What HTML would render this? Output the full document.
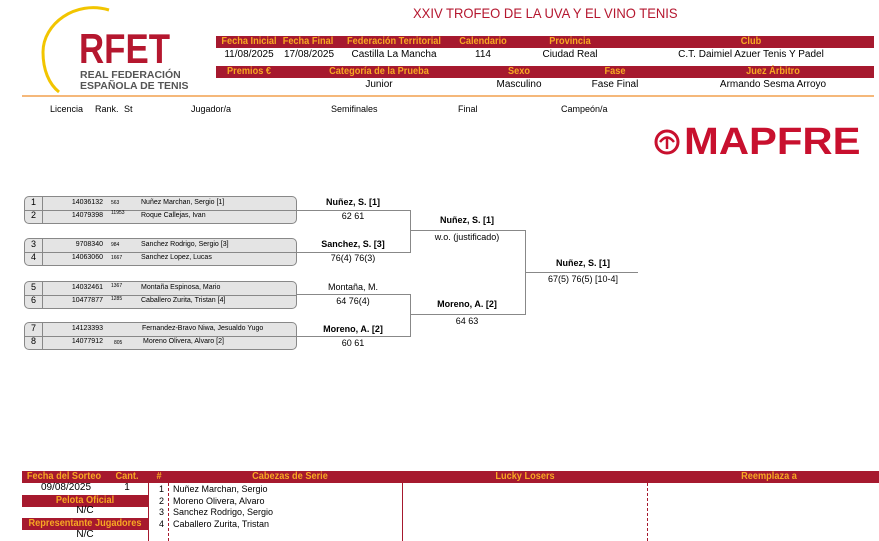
<!DOCTYPE html><html><head><meta charset="utf-8"><style>
body{margin:0;width:879px;height:541px;position:relative;background:#fff;font-family:"Liberation Sans",sans-serif;overflow:hidden}
.a{position:absolute;white-space:nowrap}
.bar{position:absolute;background:#a6192e;height:12px}
.h{position:absolute;color:#f7a823;font-size:10px;font-weight:bold;line-height:12px;transform:translateX(-50%) scaleX(0.92);white-space:nowrap}
.v{position:absolute;font-size:10px;line-height:12px;transform:translateX(-50%);white-space:nowrap;color:#000}
.c{position:absolute;font-size:9px;color:#000;white-space:nowrap}
.box{position:absolute;left:24px;width:271px;height:26px;border:1px solid #888;border-radius:5px;background:#e4e4e4}
.box .m{position:absolute;left:0;right:0;top:13px;border-top:1px solid #888}
.box .d{position:absolute;left:17px;top:0;bottom:0;border-left:1px solid #888}
.n{position:absolute;font-size:9px;width:17px;text-align:center}
.li{position:absolute;font-size:7px;width:78px;text-align:right;left:0}
.rk{position:absolute;font-size:5px;left:86px}
.nm{position:absolute;font-size:7px;left:116px}
.ln{position:absolute;background:#888}
.w{position:absolute;font-size:9px;font-weight:bold;transform:translateX(-50%);white-space:nowrap}
.s{position:absolute;font-size:9px;transform:translateX(-50%);white-space:nowrap}
</style></head><body>
<svg class="a" style="left:35px;top:4px" width="80" height="92"><path d="M74 6 C40 -4 8 20 8 48 C8 66 14 80 24 88" fill="none" stroke="#f2c500" stroke-width="3"/></svg>
<div class="a" style="left:79px;top:28px;font-size:42px;font-weight:bold;color:#b5172f;line-height:42px;transform:scaleX(0.83);transform-origin:left">RFET</div>
<div class="a" style="left:80px;top:70px;font-size:10.5px;font-weight:bold;color:#555;line-height:11px">REAL FEDERACIÓN<br>ESPAÑOLA DE TENIS</div>
<div class="a" style="left:413px;top:5px;font-size:14px;color:#b5172f;transform:scaleX(0.93);transform-origin:left">XXIV TROFEO DE LA UVA Y EL VINO TENIS</div>
<div class="bar" style="left:216px;top:36px;width:658px"></div>
<div class="h" style="left:249px;top:36px">Fecha Inicial</div><div class="h" style="left:308px;top:36px">Fecha Final</div><div class="h" style="left:394px;top:36px">Federación Territorial</div><div class="h" style="left:483px;top:36px">Calendario</div><div class="h" style="left:570px;top:36px">Provincia</div><div class="h" style="left:751px;top:36px">Club</div>
<div class="v" style="left:249px;top:49px">11/08/2025</div><div class="v" style="left:309px;top:49px">17/08/2025</div><div class="v" style="left:394px;top:49px">Castilla La Mancha</div><div class="v" style="left:483px;top:49px">114</div><div class="v" style="left:570px;top:49px">Ciudad Real</div><div class="v" style="left:751px;top:49px">C.T. Daimiel Azuer Tenis Y Padel</div>
<div class="bar" style="left:216px;top:66px;width:658px"></div>
<div class="h" style="left:249px;top:66px">Premios €</div><div class="h" style="left:379px;top:66px">Categoría de la Prueba</div><div class="h" style="left:519px;top:66px">Sexo</div><div class="h" style="left:615px;top:66px">Fase</div><div class="h" style="left:773px;top:66px">Juez Árbitro</div>
<div class="v" style="left:379px;top:79px">Junior</div><div class="v" style="left:519px;top:79px">Masculino</div><div class="v" style="left:615px;top:79px">Fase Final</div><div class="v" style="left:773px;top:79px">Armando Sesma Arroyo</div>
<div class="a" style="left:22px;top:95px;width:852px;height:2px;background:#f5b87a"></div>
<div class="c" style="left:50px;top:104px">Licencia</div><div class="c" style="left:95px;top:104px">Rank.</div><div class="c" style="left:124px;top:104px">St</div><div class="c" style="left:191px;top:104px">Jugador/a</div><div class="c" style="left:331px;top:104px">Semifinales</div><div class="c" style="left:458px;top:104px">Final</div><div class="c" style="left:561px;top:104px">Campeón/a</div>
<svg class="a" style="left:653px;top:128px" width="28" height="28"><circle cx="14" cy="14" r="11" fill="none" stroke="#c8102e" stroke-width="3"/><path d="M7 14 Q14 5 21 14 M14 9 V21" fill="none" stroke="#c8102e" stroke-width="2.5"/></svg>
<div class="a" style="left:684px;top:122px;font-size:38px;font-weight:900;color:#c8102e;line-height:40px;transform:scaleX(1.1);transform-origin:left">MAPFRE</div>

<div class="box" style="top:196px"><div class="m"></div><div class="d"></div>
<div class="n" style="top:0">1</div><div class="n" style="top:13px">2</div>
<div class="li" style="top:2px">14036132</div><div class="rk" style="top:3px">563</div><div class="nm" style="top:2px">Nuñez Marchan, Sergio [1]</div>
<div class="li" style="top:15px">14079398</div><div class="rk" style="top:13px">11953</div><div class="nm" style="top:15px">Roque Callejas, Ivan</div></div>
<div class="box" style="top:238px"><div class="m"></div><div class="d"></div>
<div class="n" style="top:0">3</div><div class="n" style="top:13px">4</div>
<div class="li" style="top:2px">9708340</div><div class="rk" style="top:3px">984</div><div class="nm" style="top:2px">Sanchez Rodrigo, Sergio [3]</div>
<div class="li" style="top:15px">14063060</div><div class="rk" style="top:16px">1667</div><div class="nm" style="top:15px">Sanchez Lopez, Lucas</div></div>
<div class="box" style="top:281px"><div class="m"></div><div class="d"></div>
<div class="n" style="top:0">5</div><div class="n" style="top:13px">6</div>
<div class="li" style="top:2px">14032461</div><div class="rk" style="top:1px">1367</div><div class="nm" style="top:2px">Montaña Espinosa, Mario</div>
<div class="li" style="top:15px">10477877</div><div class="rk" style="top:14px">1285</div><div class="nm" style="top:15px">Caballero Zurita, Tristan [4]</div></div>
<div class="box" style="top:322px"><div class="m"></div><div class="d"></div>
<div class="n" style="top:0">7</div><div class="n" style="top:13px">8</div>
<div class="li" style="top:2px">14123393</div><div class="nm" style="top:2px;left:117px">Fernandez-Bravo Niwa, Jesualdo Yugo</div>
<div class="li" style="top:15px">14077912</div><div class="rk" style="top:17px;left:89px">805</div><div class="nm" style="top:15px;left:118px">Moreno Olivera, Alvaro [2]</div></div>

<div class="ln" style="left:296px;top:210px;width:114px;height:1px"></div>
<div class="ln" style="left:296px;top:252px;width:114px;height:1px"></div>
<div class="ln" style="left:410px;top:210px;width:1px;height:43px"></div>
<div class="ln" style="left:296px;top:294px;width:114px;height:1px"></div>
<div class="ln" style="left:296px;top:336px;width:114px;height:1px"></div>
<div class="ln" style="left:410px;top:294px;width:1px;height:43px"></div>
<div class="ln" style="left:410px;top:230px;width:115px;height:1px"></div>
<div class="ln" style="left:410px;top:314px;width:115px;height:1px"></div>
<div class="ln" style="left:525px;top:230px;width:1px;height:85px"></div>
<div class="ln" style="left:525px;top:272px;width:113px;height:1px"></div>
<div class="w" style="left:353px;top:197px">Nuñez, S. [1]</div><div class="s" style="left:353px;top:211px">62 61</div>
<div class="w" style="left:353px;top:239px">Sanchez, S. [3]</div><div class="s" style="left:353px;top:253px">76(4) 76(3)</div>
<div class="s" style="left:353px;top:282px">Montaña, M.</div><div class="s" style="left:353px;top:296px">64 76(4)</div>
<div class="w" style="left:353px;top:324px">Moreno, A. [2]</div><div class="s" style="left:353px;top:338px">60 61</div>
<div class="w" style="left:467px;top:215px">Nuñez, S. [1]</div><div class="s" style="left:467px;top:232px">w.o. (justificado)</div>
<div class="w" style="left:467px;top:299px">Moreno, A. [2]</div><div class="s" style="left:467px;top:316px">64 63</div>
<div class="w" style="left:583px;top:258px">Nuñez, S. [1]</div><div class="s" style="left:583px;top:274px">67(5) 76(5) [10-4]</div>

<div class="bar" style="left:22px;top:471px;width:857px"></div>
<div class="h" style="left:64px;top:471px">Fecha del Sorteo</div><div class="h" style="left:127px;top:471px">Cant.</div><div class="h" style="left:159px;top:471px">#</div><div class="h" style="left:290px;top:471px">Cabezas de Serie</div><div class="h" style="left:525px;top:471px">Lucky Losers</div><div class="h" style="left:769px;top:471px">Reemplaza a</div>
<div class="v" style="left:66px;top:482px">09/08/2025</div><div class="v" style="left:127px;top:482px">1</div>
<div class="bar" style="left:22px;top:495px;width:126px"></div><div class="h" style="left:85px;top:495px">Pelota Oficial</div>
<div class="v" style="left:85px;top:505px">N/C</div>
<div class="bar" style="left:22px;top:518px;width:126px"></div><div class="h" style="left:85px;top:518px">Representante Jugadores</div>
<div class="v" style="left:85px;top:529px">N/C</div>
<div class="a" style="left:148px;top:483px;width:1px;height:58px;background:#a6192e"></div>
<div class="a" style="left:402px;top:483px;width:1px;height:58px;background:#a6192e"></div>
<div class="a" style="left:168px;top:483px;height:58px;border-left:1px dashed #a6192e"></div>
<div class="a" style="left:647px;top:483px;height:58px;border-left:1px dashed #a6192e"></div>
<div class="a" style="left:159px;top:484px;font-size:9px;line-height:11.6px;text-align:right">1<br>2<br>3<br>4</div>
<div class="a" style="left:173px;top:484px;font-size:9px;line-height:11.6px">Nuñez Marchan, Sergio<br>Moreno Olivera, Alvaro<br>Sanchez Rodrigo, Sergio<br>Caballero Zurita, Tristan</div>
</body></html>
